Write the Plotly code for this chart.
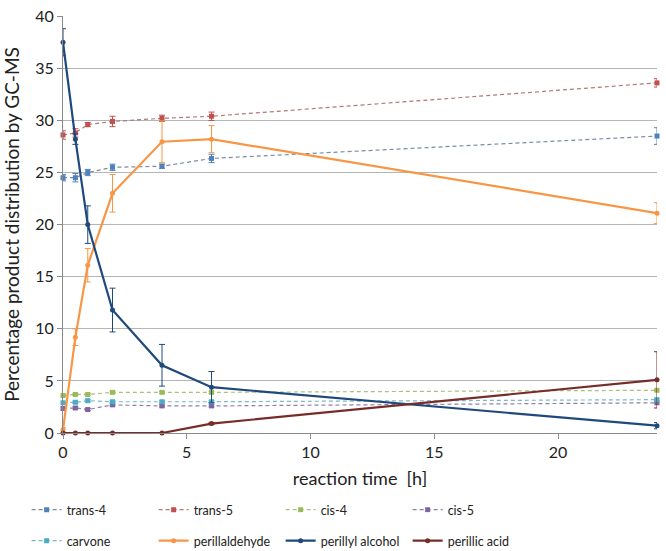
import plotly.graph_objects as go

time_h = [0, 0.5, 1, 2, 4, 6, 24]

series_names = ["trans-4", "trans-5", "cis-4", "cis-5", "carvone",
                "perillaldehyde", "perillyl alcohol", "perillic acid"]

trans4 = [24.5, 24.5, 25.0, 25.5, 25.6, 26.35, 28.5]
trans5 = [28.6, 28.8, 29.6, 29.9, 30.2, 30.4, 33.6]
cis4 = [3.6, 3.7, 3.7, 3.9, 3.9, 3.9, 4.1]
cis5 = [2.35, 2.4, 2.25, 2.7, 2.6, 2.6, 2.9]
carvone = [2.9, 2.95, 3.1, 3.0, 3.0, 3.0, 3.2]
perillaldehyde = [0.3, 9.2, 16.1, 23.0, 27.95, 28.2, 21.1]
perillyl_alcohol = [37.5, 28.2, 20.0, 11.8, 6.5, 4.4, 0.7]
perillic_acid = [0.0, 0.0, 0.0, 0.0, 0.0, 0.9, 5.1]

err_trans4 = [0.3, 0.4, 0.3, 0.3, 0.2, 0.4, 0.8]
err_trans5 = [0.4, 0.4, 0.2, 0.5, 0.3, 0.4, 0.4]
err_cis4 = [0.1, 0.1, 0.1, 0.1, 0.1, 0.1, 0.1]
err_cis5 = [0.1, 0.1, 0.1, 0.1, 0.1, 0.1, 0.1]
err_carvone = [0.1, 0.1, 0.1, 0.1, 0.1, 0.1, 0.1]
err_perillaldehyde = [0.2, 0.8, 1.6, 1.8, 2.0, 1.3, 1.0]
err_perillyl_alcohol = [1.3, 0.5, 1.8, 2.1, 2.0, 1.5, 0.3]
err_perillic_acid = [0.0, 0.0, 0.0, 0.0, 0.0, 0.1, 2.7]

y_ticks = [0, 5, 10, 15, 20, 25, 30, 35, 40]
x_ticks = [0, 5, 10, 15, 20]

values = [trans4, trans5, cis4, cis5, carvone, perillaldehyde, perillyl_alcohol, perillic_acid]
errors = [err_trans4, err_trans5, err_cis4, err_cis5, err_carvone,
          err_perillaldehyde, err_perillyl_alcohol, err_perillic_acid]
colors = ["#4F81BD", "#C0504D", "#9BBB59", "#8064A2", "#4BACC6",
          "#F79646", "#1F497D", "#772C2A"]
line_colors = ["#7A8CA8", "#B07878", "#A8C080", "#8F80A8", "#7CB8C8",
               "#F79646", "#1F497D", "#772C2A"]
dashed = [True, True, True, True, True, False, False, False]
legend_ids = ["legend", "legend", "legend", "legend",
              "legend2", "legend2", "legend2", "legend2"]

FONT = "Lato"

fig = go.Figure()
for name, y, e, c, lc, d, lg in zip(series_names, values, errors, colors,
                                    line_colors, dashed, legend_ids):
    fig.add_trace(go.Scatter(
        x=time_h, y=y, name=name, mode="lines+markers",
        line=dict(color=lc, width=1.2 if d else 2.2, dash="4px,3px" if d else "solid"),
        marker=dict(color=c, size=5, symbol="square" if d else "circle"),
        error_y=dict(type="data", array=e, visible=True, color=c,
                     thickness=1, width=3),
        cliponaxis=False,
        legend=lg,
    ))

legend_common = dict(
    orientation="h", xref="container", yref="container",
    x=0.04, xanchor="left", yanchor="middle",
    entrywidth=82, itemwidth=30, tracegroupgap=0,
    font=dict(family=FONT, size=12.5, color="#222222"),
    bgcolor="rgba(0,0,0,0)",
)

fig.update_layout(
    width=666, height=551,
    margin=dict(l=63, r=9, t=6, b=118),
    paper_bgcolor="white", plot_bgcolor="white",
    font=dict(family=FONT, size=16, color="#222222"),
    showlegend=True,
    legend=dict(legend_common, y=1 - 510 / 551),
    legend2=dict(legend_common, y=1 - 541 / 551),
    xaxis=dict(
        range=[0, 24], tickvals=x_ticks, showgrid=False, zeroline=False,
        showline=True, linecolor="#8a8a8a", linewidth=1,
        ticks="outside", ticklen=5, tickcolor="#8a8a8a",
        tickfont=dict(family=FONT, size=16, color="#222222"),
        title=dict(text="reaction time  [h]", font=dict(family=FONT, size=18, color="#222222"),
                   standoff=12),
    ),
    yaxis=dict(
        range=[0, 40.02], tickvals=y_ticks, showgrid=True, gridcolor="#b5b5b5", gridwidth=1,
        zeroline=False, showline=True, linecolor="#8a8a8a", linewidth=1,
        ticks="outside", ticklen=5, tickcolor="#8a8a8a",
        ticklabeloverflow="allow",
        tickfont=dict(family=FONT, size=16, color="#222222"),
        title=dict(text="Percentage product distribution by GC-MS",
                   font=dict(family=FONT, size=19, color="#222222"), standoff=10),
    ),
)

fig.write_html("out.html")
